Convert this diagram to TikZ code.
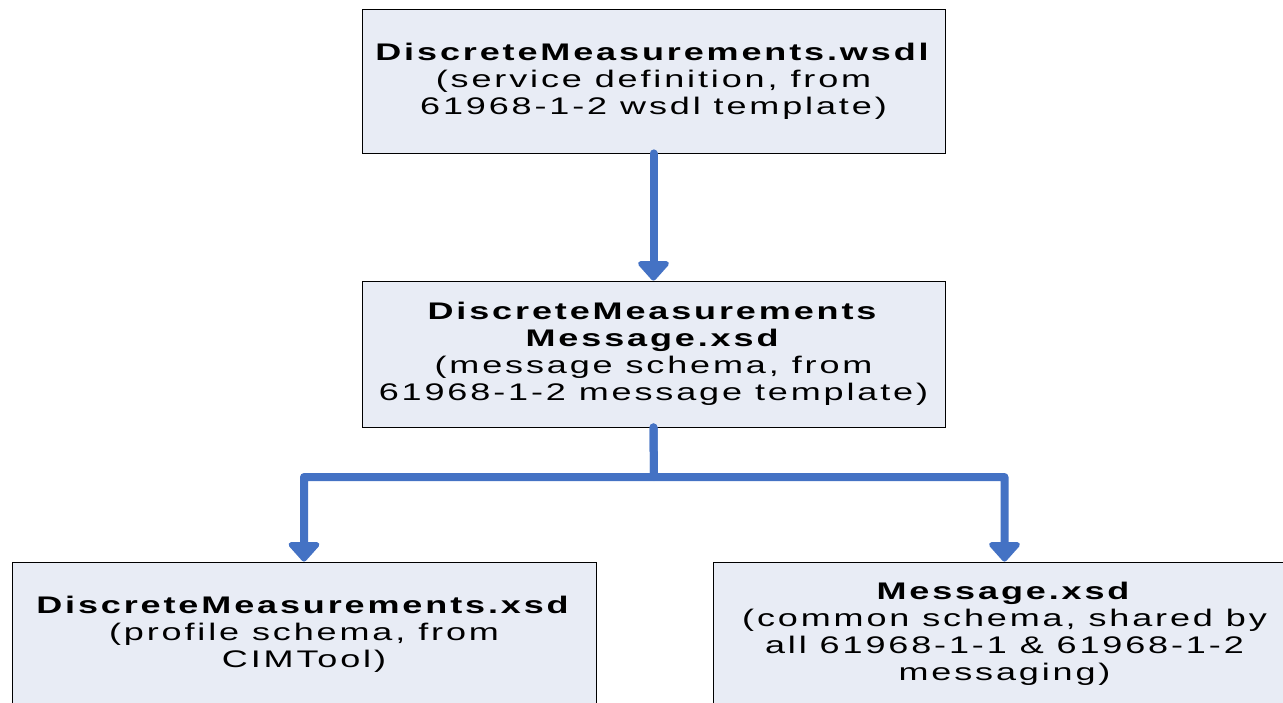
\documentclass[tikz,border=0pt]{standalone}
\usepackage{fontspec}
\setmainfont{Liberation Sans}[FakeStretch=1.5,LetterSpace=12]
\usetikzlibrary{arrows.meta}
\definecolor{boxfill}{RGB}{232,236,245}
\definecolor{arrblue}{RGB}{68,114,196}
\tikzset{
  box/.style={draw=black, line width=0.8pt, fill=boxfill, minimum width=583pt, align=center,
    font=\fontsize{24pt}{27pt}\selectfont, inner sep=0pt},
  conn/.style={draw=arrblue, line width=8pt, line cap=round, line join=round,
    -{Triangle[width=36pt,length=21pt,round=false]}}
}
\begin{document}
\begin{tikzpicture}[x=1pt,y=1pt]
\useasboundingbox (0,0) rectangle (1283,-702);
\node[box, minimum height=144pt] (top) at (653.5,-81) {\textbf{DiscreteMeasurements.wsdl}\\(service definition, from\\61968-1-2 wsdl template)};
\node[box, minimum height=146pt] (mid) at (653.5,-354) {\textbf{DiscreteMeasurements}\\\textbf{Message.xsd}\\(message schema, from\\61968-1-2 message template)};
\node[box, minimum width=584pt, minimum height=144pt] (bl) at (304,-634) {\textbf{DiscreteMeasurements.xsd}\\(profile schema, from\\CIMTool)};
\node[box, minimum height=144pt] (br) at (1004.5,-634) {\textbf{Message.xsd}\\(common schema, shared by\\all 61968-1-1 \& 61968-1-2\\messaging)};
\coordinate (fork) at (654,-477);
\draw[conn] (top.south) -- (mid.north);
\draw[conn] (mid.south) -- (fork) -| (bl.north);
\draw[conn] (mid.south) -- (fork) -| (br.north);
\end{tikzpicture}
\end{document}
